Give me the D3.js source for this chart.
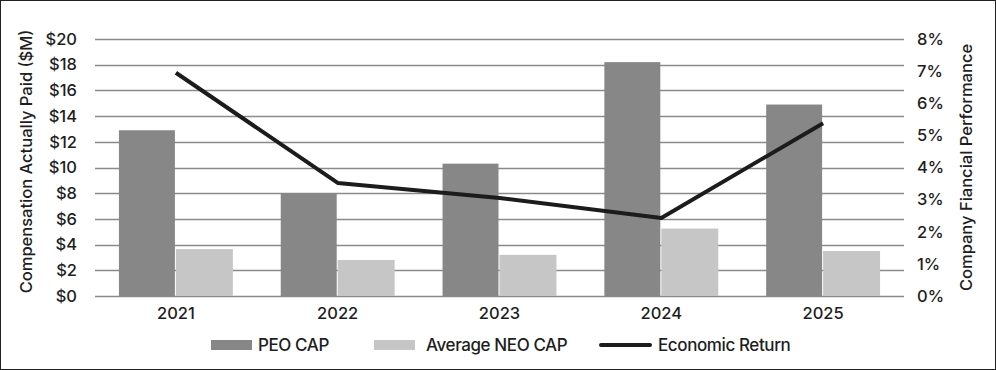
<!DOCTYPE html>
<html><head><meta charset="utf-8">
<script src="https://cdn.jsdelivr.net/npm/d3@7"></script>
<style>
html,body{margin:0;padding:0;background:#fff;}
svg{display:block;font-family:Inter, "Noto Sans", sans-serif;}
</style></head>
<body>
<svg id="c" width="996" height="370"></svg>
<script>
const years = ["2021","2022","2023","2024","2025"];
const peoCap = [12.9, 8.0, 10.3, 18.2, 14.9];
const neoCap = [3.65, 2.8, 3.2, 5.25, 3.5];
const econReturn = [6.95, 3.52, 3.05, 2.43, 5.38];
const leftTicks = [0,2,4,6,8,10,12,14,16,18,20];
const rightTicks = [0,1,2,3,4,5,6,7,8];
const seriesNames = ["PEO CAP","Average NEO CAP","Economic Return"];

const svg = d3.select("#c");
const W = 996, H = 370;
const m = {left:95, right:92, top:39, bottom:74};
const x0 = m.left, x1 = W - m.right, yTop = m.top, yBot = H - m.bottom;
const txt = "#1e1e1e";
const fw = 500;

svg.append("rect").attr("x",0.5).attr("y",0.5).attr("width",W-1).attr("height",H-1)
  .attr("fill","#fff").attr("stroke","#222").attr("stroke-width",1);

const x = d3.scaleBand().domain(years).range([x0,x1]).paddingInner(0.296).paddingOuter(0.148);
const xs = d3.scaleBand().domain([0,1]).range([0,x.bandwidth()]);
const yL = d3.scaleLinear().domain([0,20]).range([yBot,yTop]);
const yR = d3.scaleLinear().domain([0,8]).range([yBot,yTop]);

// gridlines
svg.append("g").selectAll("line").data(leftTicks).join("line")
  .attr("x1",x0).attr("x2",x1).attr("y1",d=>Math.round(yL(d))+0.5).attr("y2",d=>Math.round(yL(d))+0.5)
  .attr("stroke","#8a8a8a").attr("stroke-width",1.3);

// bars
const g = svg.append("g");
g.selectAll("rect.peo").data(years).join("rect").attr("class","peo")
  .attr("x",(d)=>x(d)+xs(0)).attr("width",xs.bandwidth()-1)
  .attr("y",(d,i)=>yL(peoCap[i])).attr("height",(d,i)=>yBot-yL(peoCap[i]))
  .attr("fill","#878787");
g.selectAll("rect.neo").data(years).join("rect").attr("class","neo")
  .attr("x",(d)=>x(d)+xs(1)).attr("width",xs.bandwidth())
  .attr("y",(d,i)=>yL(neoCap[i])).attr("height",(d,i)=>yBot-yL(neoCap[i]))
  .attr("fill","#c6c6c6");

// line
const line = d3.line().x((d,i)=>x(years[i])+x.bandwidth()/2).y(d=>yR(d));
svg.append("path").datum(econReturn).attr("d",line)
  .attr("fill","none").attr("stroke","#1c1c1c").attr("stroke-width",4).attr("stroke-linejoin","round");

// axes
const fs = 16.5;
const axL = svg.append("g").attr("transform",`translate(${x0-15},0)`)
  .call(d3.axisLeft(yL).tickValues(leftTicks).tickSize(0).tickFormat(d=>"$"+d));
const axR = svg.append("g").attr("transform",`translate(${x1+10},0)`)
  .call(d3.axisRight(yR).tickValues(rightTicks).tickSize(0).tickFormat(d=>d+"%"));
const axB = svg.append("g").attr("transform",`translate(0,${yBot+8})`)
  .call(d3.axisBottom(x).tickSize(0));
[axL,axR,axB].forEach(a=>{
  a.select(".domain").remove();
  a.selectAll("text").attr("font-family","Inter, sans-serif").attr("font-size",fs)
    .attr("font-weight",fw).attr("fill",txt);
});

svg.append("text").attr("transform",`translate(32,${(yTop+yBot)/2 - 6}) rotate(-90)`)
  .attr("text-anchor","middle").attr("font-size",16.5).attr("font-weight",fw).attr("fill",txt).text("Compensation Actually Paid ($M)");
svg.append("text").attr("transform",`translate(972,${(yTop+yBot)/2}) rotate(-90)`)
  .attr("text-anchor","middle").attr("font-size",16.5).attr("font-weight",fw).attr("fill",txt).text("Company Fiancial Performance");

// legend
const lg = svg.append("g");
const ly = 345;
const items = [
  {name:seriesNames[0], sx:211, tx:258, type:"rect", color:"#878787"},
  {name:seriesNames[1], sx:374, tx:426, type:"rect", color:"#c6c6c6"},
  {name:seriesNames[2], sx:601, tx:658, type:"line", color:"#1c1c1c"}
];
items.forEach(it=>{
  if(it.type==="rect"){
    lg.append("rect").attr("x",it.sx).attr("y",ly-5).attr("width",41).attr("height",10).attr("fill",it.color);
  } else {
    lg.append("line").attr("x1",it.sx).attr("x2",it.sx+49).attr("y1",ly).attr("y2",ly)
      .attr("stroke",it.color).attr("stroke-width",4).attr("stroke-linecap","round");
  }
  lg.append("text").attr("x",it.tx).attr("y",ly).attr("dy","0.36em").attr("font-size",17)
    .attr("font-weight",fw).attr("fill",txt).attr("letter-spacing","-0.4").text(it.name);
});
</script>
</body></html>
